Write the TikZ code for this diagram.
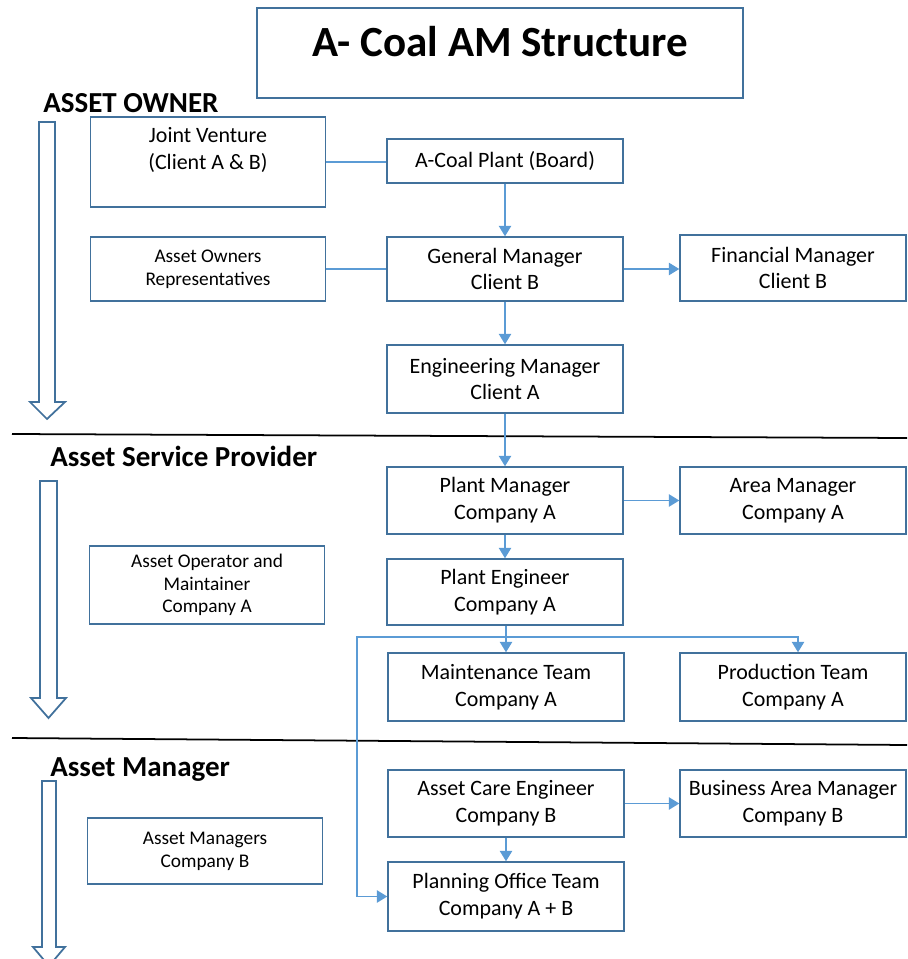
\documentclass[tikz,border=0pt]{standalone}
\usepackage{fontspec}
\setmainfont{Carlito}
\usetikzlibrary{arrows.meta,calc}
\definecolor{boxline}{HTML}{41719C}
\definecolor{linkblue}{HTML}{5B9BD5}
\tikzset{
  box/.style={draw=boxline, line width=0.8pt, align=center, inner sep=2pt,
    font=\fontsize{12.5}{15.3}\selectfont},
  smallbox/.style={box, font=\fontsize{11}{13}\selectfont},
  midcol/.style={minimum width=4.72cm},
  rightcol/.style={minimum width=4.52cm},
  leftcol/.style={minimum width=4.70cm},
  link/.style={draw=linkblue, line width=1.1pt},
  flow/.style={link, -{Triangle[length=6pt,width=7pt]}},
  band/.style={font=\fontsize{16.5}{19}\selectfont\bfseries, anchor=base west, inner sep=0pt},
  hollow/.style={draw=boxline, line width=1pt, fill=white, line join=miter},
  divider/.style={draw=black, line width=1pt}
}
\begin{document}
\begin{tikzpicture}[x=0.02cm, y=-0.02cm]
\useasboundingbox (0,0) rectangle (907,959);
\clip (0,0) rectangle (907,959);

% title
\node[draw=boxline, line width=0.8pt, minimum width=9.72cm, minimum height=1.8cm] (titlebox) at (500,53) {};
\node[font=\fontsize{24.5}{28}\selectfont\bfseries] (title) at (500,42) {A- Coal AM Structure};

% band headings
\node[band] (hOwner) at (43,113) {ASSET OWNER};
\node[band] (hService) at (50,466) {Asset Service Provider};
\node[band] (hManager) at (50,776) {Asset Manager};

% band dividers
\draw[divider] (12,434) -- (907,438);
\draw[divider] (12,738) -- (907,745);

% hollow down arrows
\draw[hollow] (39,122) -- (55,122) -- (55,402) -- (65,402) -- (47,419) -- (30,402) -- (39,402) -- cycle;
\draw[hollow] (40,481) -- (57,481) -- (57,698) -- (66,698) -- (48.5,718) -- (31,698) -- (40,698) -- cycle;
\draw[hollow] (42,781) -- (56,781) -- (56,947) -- (65,947) -- (49,966) -- (33,947) -- (42,947) -- cycle;

% left column
\node[box, leftcol, minimum height=1.8cm] (jv) at (208,162) {Joint Venture\\(Client A \& B)\\\mbox{}};
\node[smallbox, leftcol, minimum height=1.28cm] (aor) at (208,269) {Asset Owners\\Representatives};
\node[smallbox, leftcol, minimum height=1.56cm] (aom) at (207,585) {Asset Operator and\\Maintainer\\Company A};
\node[smallbox, leftcol, minimum height=1.32cm] (amb) at (205,851) {Asset Managers\\Company B};

% middle column
\node[box, midcol, minimum height=0.88cm] (acoal) at (505,161) {A-Coal Plant (Board)};
\node[box, midcol, minimum height=1.28cm] (gm) at (505,269) {General Manager\\Client B};
\node[box, midcol, minimum height=1.36cm] (eng) at (505,379) {Engineering Manager\\Client A};
\node[box, midcol, minimum height=1.34cm] (pm) at (505,500.5) {Plant Manager\\Company A};
\node[box, midcol, minimum height=1.32cm] (pe) at (505,592) {Plant Engineer\\Company A};
\node[box, midcol, minimum height=1.36cm] (mt) at (506,687) {Maintenance Team\\Company A};
\node[box, midcol, minimum height=1.34cm] (ace) at (506,803.5) {Asset Care Engineer\\Company B};
\node[box, midcol, minimum height=1.38cm] (pot) at (506,896.5) {Planning Office Team\\Company A + B};

% right column
\node[box, rightcol, minimum height=1.32cm] (fin) at (793,268) {Financial Manager\\Client B};
\node[box, rightcol, minimum height=1.34cm] (am) at (793,500.5) {Area Manager\\Company A};
\node[box, rightcol, minimum height=1.36cm] (prod) at (793,687) {Production Team\\Company A};
\node[box, rightcol, minimum height=1.34cm] (bam) at (793,803.5) {Business Area Manager\\Company B};

% connectors
\draw[link] (jv.east) -- (jv.east -| acoal.west);
\draw[link] (aor.east) -- (aor.east -| gm.west);
\draw[flow] (acoal) -- (gm);
\draw[flow] (gm) -- (eng);
\draw[flow] (gm.east) -- (gm.east -| fin.west);
\draw[flow] (eng) -- (pm);
\draw[flow] (pm.east) -- (pm.east -| am.west);
\draw[flow] (pm) -- (pe);

\coordinate (split) at (506,637);
\coordinate (prodDrop) at (798,637);
\coordinate (leftRun) at (357,637);
\draw[link] (pe.south -| split) -- (split);
\draw[flow] (split) -- (mt.north -| split);
\draw[flow] (split) -- (prodDrop) -- (prodDrop |- prod.north);
\draw[flow] (split) -- (leftRun) |- (pot.west);

\draw[flow] (ace.east) -- (ace.east -| bam.west);
\draw[flow] (ace) -- (pot);
\end{tikzpicture}
\end{document}
